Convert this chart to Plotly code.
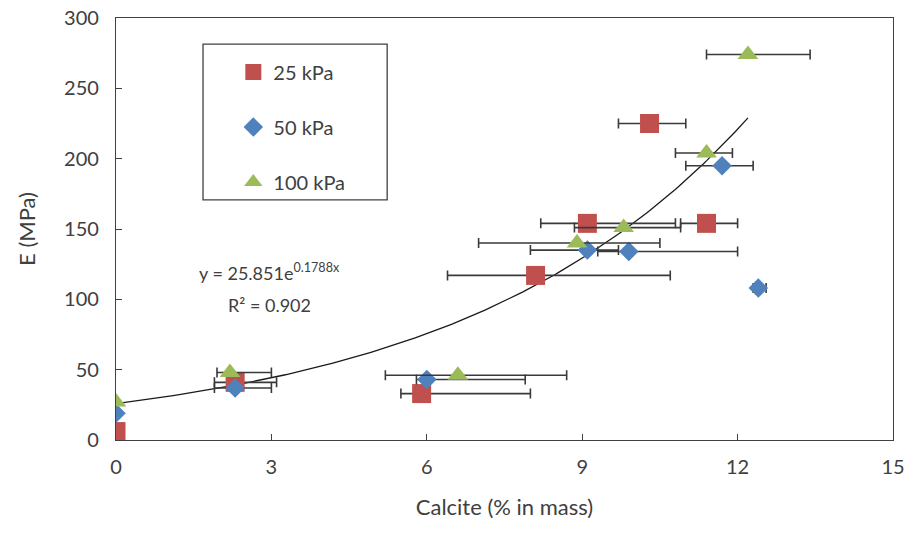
import numpy as np
import plotly.graph_objects as go

# ---- data ----
x25 = [0.0, 2.3, 5.9, 8.1, 9.1, 10.3, 11.4]
y25 = [6, 41, 33, 117, 154, 225, 154]
x25_minus = [0.0, 0.4, 0.4, 1.7, 0.9, 0.6, 0.5]
x25_plus = [0.0, 0.8, 2.1, 2.6, 1.7, 0.7, 0.6]

x50 = [0.0, 2.3, 6.0, 9.1, 9.9, 11.7, 12.4]
y50 = [19, 37, 43, 135, 134, 195, 108]
x50_minus = [0.0, 0.4, 0.2, 1.1, 0.6, 0.7, 0.1]
x50_plus = [0.0, 0.7, 1.9, 0.6, 2.1, 0.6, 0.15]

x100 = [0.0, 2.2, 6.6, 8.9, 9.8, 11.4, 12.2]
y100 = [27, 48, 46, 140, 151, 204, 274]
x100_minus = [0.0, 0.25, 1.4, 1.9, 0.95, 0.6, 0.8]
x100_plus = [0.0, 0.8, 2.1, 1.6, 1.1, 0.5, 1.2]

trend_a = 25.851
trend_b = 0.1788
trend_x_range = [0.0, 12.2]

x_ticks = [0, 3, 6, 9, 12, 15]
y_ticks = [0, 50, 100, 150, 200, 250, 300]

FONT = "Lato"
RED = "#C0504D"
BLUE = "#4F81BD"
GREEN = "#9BBB59"
ERR = "#3a3a3a"
TXT = "#404040"

fig = go.Figure()

tx = np.linspace(trend_x_range[0], trend_x_range[1], 200)
fig.add_trace(go.Scatter(x=tx, y=trend_a * np.exp(trend_b * tx), mode="lines",
                         line=dict(color="#1a1a1a", width=1.3), showlegend=False,
                         hoverinfo="skip"))


def err(plus, minus):
    return dict(type="data", symmetric=False, array=plus, arrayminus=minus,
                color=ERR, thickness=1.6, width=5)


fig.add_trace(go.Scatter(x=x25, y=y25, mode="markers", name="25 kPa", legendgroup="a",
                         marker=dict(symbol="square", size=19, color=RED),
                         error_x=err(x25_plus, x25_minus)))
fig.add_trace(go.Scatter(x=x50, y=y50, mode="markers", name="50 kPa", legendgroup="b",
                         marker=dict(symbol="diamond", size=15, color=BLUE),
                         error_x=err(x50_plus, x50_minus)))
fig.add_trace(go.Scatter(x=x100, y=y100, mode="markers", name="100 kPa", legendgroup="c",
                         marker=dict(symbol="triangle-up", size=18, color=GREEN),
                         error_x=err(x100_plus, x100_minus)))

axis_common = dict(showgrid=False, zeroline=False, showline=True, linecolor=TXT,
                   linewidth=1.3, mirror=True, ticks="inside", ticklen=6,
                   tickcolor=TXT, tickwidth=1.3, automargin=False,
                   ticklabeloverflow="allow",
                   tickfont=dict(family=FONT, size=20, color=TXT))

fig.update_xaxes(range=[0, 15], tickvals=x_ticks, ticklabelstandoff=9, **axis_common,
                 title=dict(text="Calcite (% in mass)", font=dict(family=FONT, size=22, color=TXT),
                            standoff=22))
fig.update_yaxes(range=[0, 300], tickvals=y_ticks, ticklabelstandoff=12, **axis_common,
                 title=dict(text="E (MPa)", font=dict(family=FONT, size=22, color=TXT),
                            standoff=22))

fig.add_annotation(x=2.97, y=119.5, xref="x", yref="y", showarrow=False,
                   text="y = 25.851e<sup>0.1788x</sup>",
                   font=dict(family=FONT, size=18, color=TXT))
fig.add_annotation(x=2.97, y=96, xref="x", yref="y", showarrow=False,
                   text="R² = 0.902",
                   font=dict(family=FONT, size=18, color=TXT))

fig.add_shape(type="rect", xref="paper", yref="paper", x0=0.112, x1=0.349, y0=0.569, y1=0.938,
              line=dict(color=TXT, width=1.3), fillcolor="rgba(0,0,0,0)")

fig.update_layout(
    width=907, height=535,
    margin=dict(l=116, r=14, t=18, b=95),
    plot_bgcolor="white", paper_bgcolor="white",
    font=dict(family=FONT, color=TXT),
    legend=dict(x=0.151, y=0.918, xanchor="left", yanchor="top",
                bgcolor="rgba(0,0,0,0)", borderwidth=0,
                font=dict(family=FONT, size=20, color=TXT),
                tracegroupgap=26),
)

fig.write_html("out.html", config={"displayModeBar": False},
               post_script="document.body.style.margin='0';document.body.style.overflow='hidden';")
